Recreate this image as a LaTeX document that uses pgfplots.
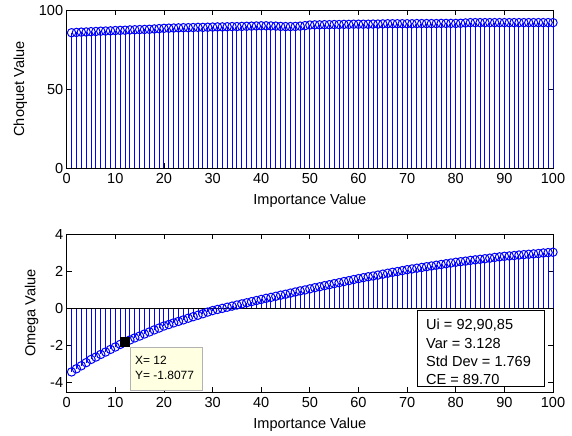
\documentclass[border=0pt]{standalone}
\usepackage{pgfplots}
\pgfplotsset{compat=1.18}
\usepackage{pgfplotstable}
\usepackage{fontspec}
\setmainfont{Liberation Sans}
\definecolor{mblue}{RGB}{0,0,255}
\definecolor{tipbg}{RGB}{255,255,225}
\pgfplotstableread{
x y
1 85.6
2 85.8
3 86.0
4 86.1
5 86.3
6 86.4
7 86.6
8 86.7
9 86.8
10 87.0
11 87.1
12 87.2
13 87.4
14 87.5
15 87.6
16 87.7
17 87.8
18 88.0
19 88.2
20 88.4
21 88.5
22 88.6
23 88.7
24 88.8
25 88.8
26 88.9
27 89.0
28 89.0
29 89.1
30 89.2
31 89.3
32 89.3
33 89.4
34 89.5
35 89.5
36 89.6
37 89.7
38 89.8
39 89.9
40 90.0
41 90.0
42 89.9
43 89.8
44 89.6
45 89.5
46 89.5
47 89.6
48 89.8
49 90.1
50 90.5
51 90.6
52 90.6
53 90.7
54 90.7
55 90.8
56 90.8
57 90.9
58 90.9
59 91.0
60 91.0
61 91.0
62 91.0
63 91.1
64 91.1
65 91.2
66 91.3
67 91.3
68 91.3
69 91.3
70 91.3
71 91.3
72 91.4
73 91.4
74 91.4
75 91.4
76 91.4
77 91.5
78 91.5
79 91.5
80 91.5
81 91.6
82 91.8
83 92.0
84 92.0
85 92.0
86 92.0
87 92.0
88 92.0
89 92.0
90 92.0
91 92.0
92 92.0
93 92.0
94 92.0
95 92.0
96 92.0
97 92.0
98 92.0
99 92.0
100 92.0
}\choquet
\pgfplotstableread{
x y
1 -3.42
2 -3.25
3 -3.09
4 -2.92
5 -2.75
6 -2.62
7 -2.48
8 -2.35
9 -2.21
10 -2.08
11 -1.94
12 -1.8077
13 -1.70
14 -1.59
15 -1.49
16 -1.38
17 -1.27
18 -1.16
19 -1.06
20 -0.95
21 -0.87
22 -0.78
23 -0.70
24 -0.62
25 -0.53
26 -0.45
27 -0.37
28 -0.29
29 -0.20
30 -0.12
31 -0.06
32 0.00
33 0.06
34 0.12
35 0.18
36 0.24
37 0.30
38 0.36
39 0.42
40 0.48
41 0.54
42 0.59
43 0.65
44 0.71
45 0.76
46 0.82
47 0.88
48 0.94
49 0.99
50 1.05
51 1.11
52 1.16
53 1.22
54 1.27
55 1.33
56 1.38
57 1.44
58 1.49
59 1.55
60 1.60
61 1.65
62 1.70
63 1.74
64 1.79
65 1.84
66 1.89
67 1.94
68 1.98
69 2.03
70 2.08
71 2.12
72 2.16
73 2.20
74 2.24
75 2.28
76 2.32
77 2.36
78 2.40
79 2.44
80 2.48
81 2.51
82 2.54
83 2.58
84 2.61
85 2.64
86 2.67
87 2.70
88 2.74
89 2.77
90 2.80
91 2.82
92 2.84
93 2.87
94 2.89
95 2.91
96 2.93
97 2.95
98 2.98
99 3.00
100 3.02
}\omegadata
\pgfplotsset{
  mlaxis/.style={
    scale only axis, width=486.3bp, height=158bp,
    anchor=south west,
    xmin=0, xmax=100, xtick={0,10,...,100},
    tick align=inside, major tick length=5bp,
    axis line style={line width=0.75bp},
    every tick/.style={black, line width=0.75bp},
    /pgf/number format/assume math mode=true,
    tick label style={font=\fontsize{14.6}{17}\selectfont},
    xticklabel style={yshift=-1.5bp},
    label style={font=\fontsize{14.6}{17}\selectfont},
    xlabel style={yshift=-4bp},
    ylabel style={yshift=5bp},
    xlabel={Importance Value},
    clip=false,
  },
  mlstem/.style={ycomb, mblue, line width=1bp, mark=o, mark size=4.2bp,
    mark options={solid, line width=1bp}},
}
\begin{document}
\begin{tikzpicture}
\path[use as bounding box] (0,0) rectangle (572bp,436bp);
\begin{axis}[mlaxis, at={(66.7bp,268bp)},
  ymin=0, ymax=100, ytick={0,50,100}, ylabel={Choquet Value}]
\addplot[mlstem] table {\choquet};
\end{axis}
\begin{axis}[mlaxis, at={(66.7bp,44bp)},
  ymin=-4.5, ymax=4, ytick={-4,-2,0,2,4}, ylabel={Omega Value}]
\addplot[mlstem] table {\omegadata};
\addplot[black, line width=0.75bp, mark=none] coordinates {(0,0) (100,0)};
\addplot[only marks, black, mark=square*, mark size=4.5bp] coordinates {(12,-1.8077)};
\end{axis}
\draw[draw=black!30, fill=tipbg, line width=0.6bp] (130bp,89bp) rectangle (202bp,46bp);
\node[anchor=west, inner sep=0pt, font=\fontsize{12}{14}\selectfont] at (135bp,76bp) {X= 12};
\node[anchor=west, inner sep=0pt, font=\fontsize{12}{14}\selectfont] at (135bp,61bp) {Y= -1.8077};
\draw[black, fill=white, line width=0.75bp] (417.7bp,126bp) rectangle (544bp,49.3bp);
\begin{scope}[every node/.style={anchor=west, inner sep=0pt, font=\fontsize{14.6}{17}\selectfont}]
\node at (426bp,111bp) {Ui = 92,90,85};
\node at (426bp,92.7bp) {Var = 3.128};
\node at (426bp,74.3bp) {Std Dev = 1.769};
\node at (426bp,56.7bp) {CE = 89.70};
\end{scope}
\end{tikzpicture}
\end{document}
